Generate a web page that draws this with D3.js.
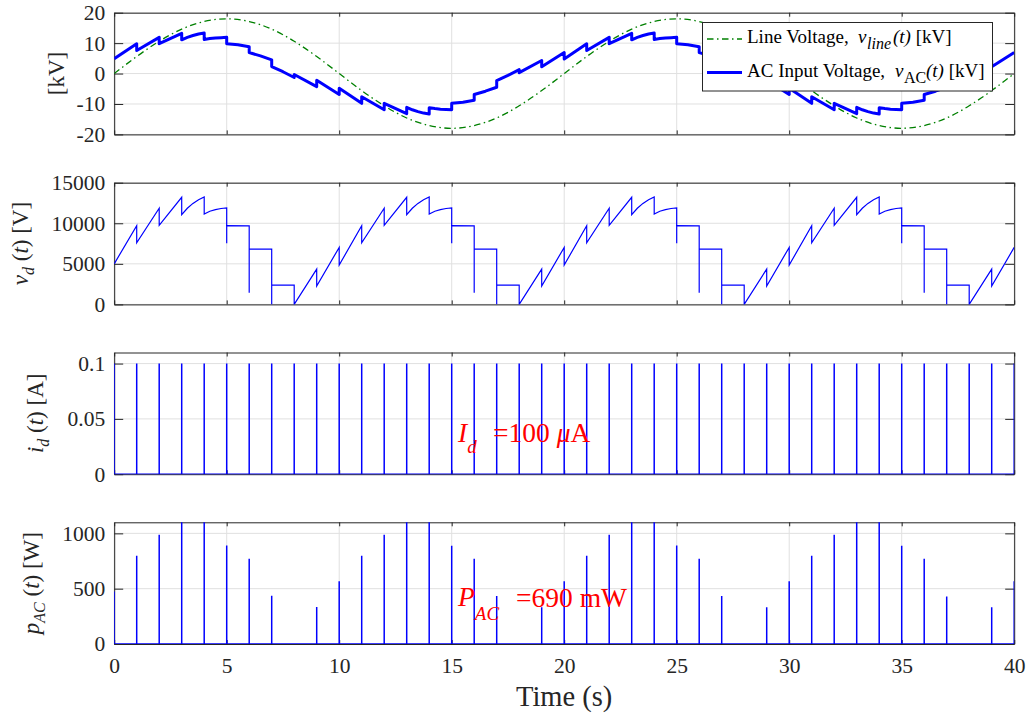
<!DOCTYPE html>
<html>
<head>
<meta charset="utf-8">
<script src="https://cdn.jsdelivr.net/npm/d3@7"></script>
<style>
  html, body { margin: 0; padding: 0; background: #fff; }
  svg { display: block; font-family: "Liberation Serif", "Times New Roman", serif; }
</style>
</head>
<body>
<svg id="chart" width="1029" height="714"></svg>
<script>
// ---------------- data ----------------
const timeTicks = [0, 5, 10, 15, 20, 25, 30, 35, 40];
const kvTicks = [-20, -10, 0, 10, 20];
const vdTicks = [0, 5000, 10000, 15000];
const idTicks = [0, 0.05, 0.1];
const pTicks = [0, 500, 1000];

// line voltage samples, one per second [kV]
const lineTimes = [0,1,2,3,4,5,6,7,8,9,10,11,12,13,14,15,16,17,18,19,20,
                   21,22,23,24,25,26,27,28,29,30,31,32,33,34,35,36,37,38,39,40];
const lineVoltage = [0,5.6,10.6,14.6,17.1,18,17.1,14.6,10.6,5.6,0,-5.6,-10.6,-14.6,-17.1,-18,-17.1,-14.6,-10.6,-5.6,
                     0,5.6,10.6,14.6,17.1,18,17.1,14.6,10.6,5.6,0,-5.6,-10.6,-14.6,-17.1,-18,-17.1,-14.6,-10.6,-5.6,0];

// AC input voltage [t (s), kV]
const vacPoints = [
  [0,4.9],[1,9.8],[1,7.6],[2,11.9],[2,9.8],[3,13.2],[3,11.1],[3.25,11.9],[3.5,12.5],[3.75,13.0],[4,13.3],[4,11.2],
  [4.25,11.5],[4.5,11.7],[4.75,11.8],[5,11.9],[5,9.8],[5.5,9.45],[6,8.8],[6,6.9],[6.5,5.8],[7,4.5],[7,2.3],[7.5,0.6],
  [8,-1.3],[8,-0.3],[9,-4.3],[9,-2.2],[10,-6.9],[10,-4.8],
  [11,-9.8],[11,-7.6],[12,-11.9],[12,-9.8],[13,-13.2],[13,-11.1],[13.25,-11.9],[13.5,-12.5],[13.75,-13.0],[14,-13.3],[14,-11.2],
  [14.25,-11.5],[14.5,-11.7],[14.75,-11.8],[15,-11.9],[15,-9.8],[15.5,-9.45],[16,-8.8],[16,-6.9],[16.5,-5.8],[17,-4.5],[17,-2.3],[17.5,-0.6],
  [18,1.3],[18,0.3],[19,4.3],[19,2.2],[20,6.9],[20,4.8],
  [21,9.8],[21,7.6],[22,11.9],[22,9.8],[23,13.2],[23,11.1],[23.25,11.9],[23.5,12.5],[23.75,13.0],[24,13.3],[24,11.2],
  [24.25,11.5],[24.5,11.7],[24.75,11.8],[25,11.9],[25,9.8],[25.5,9.45],[26,8.8],[26,6.9],[26.5,5.8],[27,4.5],[27,2.3],[27.5,0.6],
  [28,-1.3],[28,-0.3],[29,-4.3],[29,-2.2],[30,-6.9],[30,-4.8],
  [31,-9.8],[31,-7.6],[32,-11.9],[32,-9.8],[33,-13.2],[33,-11.1],[33.25,-11.9],[33.5,-12.5],[33.75,-13.0],[34,-13.3],[34,-11.2],
  [34.25,-11.5],[34.5,-11.7],[34.75,-11.8],[35,-11.9],[35,-9.8],[35.5,-9.45],[36,-8.8],[36,-6.9],[36.5,-5.8],[37,-4.5],[37,-2.3],[37.5,-0.6],
  [38,1.3],[38,0.3],[39,4.3],[39,2.2],[40,6.9]
];

// diode voltage [t (s), V]
const vdPoints = [
  [0,5000],[1,9700],[1,7600],[2,11850],[2,9750],[3,13200],[3,11050],[3.25,11850],[3.5,12450],[3.75,12900],[4,13250],[4,11150],
  [4.25,11480],[4.5,11690],[4.75,11820],[5,11880],[5,7550],[5,9700],[6,9680],[6,1450],[6,6820],[7,6820],[7,0],[7,2370],
  [8,2370],[8,0],[9,4350],[9,2260],[10,7030],[10,4850],
  [11,9700],[11,7600],[12,11850],[12,9750],[13,13200],[13,11050],[13.25,11850],[13.5,12450],[13.75,12900],[14,13250],[14,11150],
  [14.25,11480],[14.5,11690],[14.75,11820],[15,11880],[15,7550],[15,9700],[16,9680],[16,1450],[16,6820],[17,6820],[17,0],[17,2370],
  [18,2370],[18,0],[19,4350],[19,2260],[20,7030],[20,4850],
  [21,9700],[21,7600],[22,11850],[22,9750],[23,13200],[23,11050],[23.25,11850],[23.5,12450],[23.75,12900],[24,13250],[24,11150],
  [24.25,11480],[24.5,11690],[24.75,11820],[25,11880],[25,7550],[25,9700],[26,9680],[26,1450],[26,6820],[27,6820],[27,0],[27,2370],
  [28,2370],[28,0],[29,4350],[29,2260],[30,7030],[30,4850],
  [31,9700],[31,7600],[32,11850],[32,9750],[33,13200],[33,11050],[33.25,11850],[33.5,12450],[33.75,12900],[34,13250],[34,11150],
  [34.25,11480],[34.5,11690],[34.75,11820],[35,11880],[35,7550],[35,9700],[36,9680],[36,1450],[36,6820],[37,6820],[37,0],[37,2370],
  [38,2370],[38,0],[39,4350],[39,2260],[40,7030]
];

// pulse instants and heights
const pulseTimes = [0,1,2,3,4,5,6,7,8,9,10,11,12,13,14,15,16,17,18,19,20,
                    21,22,23,24,25,26,27,28,29,30,31,32,33,34,35,36,37,38,39,40];
const idPeaks = [0.1,0.1,0.1,0.1,0.1,0.1,0.1,0.1,0.1,0.1,0.1,0.1,0.1,0.1,0.1,0.1,0.1,0.1,0.1,0.1,0.1,
                 0.1,0.1,0.1,0.1,0.1,0.1,0.1,0.1,0.1,0.1,0.1,0.1,0.1,0.1,0.1,0.1,0.1,0.1,0.1,0.1];
const pacPeaks = [475,797,988,1180,1190,890,770,435,0,335,568,797,988,1180,1190,888,770,433,0,333,567,
                  797,988,1180,1190,891,770,433,0,333,567,797,988,1180,1190,888,770,430,0,333,567];

// ---------------- layout ----------------
const FONT = '"Liberation Serif", "Times New Roman", serif';
const svg = d3.select("#chart");
const X0 = 114.2, X1 = 1014.2, PH = 121.7;
const panelTops = [12.7, 182.7, 352.5, 522.3];
const INK = "#262626", GRID = "#e0e0e0", BLUE = "#0000ff";

const x = d3.scaleLinear().domain([0, 40]).range([X0, X1]);

function makePanel(i, domain, yTicks, showX) {
  const top = panelTops[i], bottom = top + PH;
  const y = d3.scaleLinear().domain(domain).range([bottom, top]);
  const g = svg.append("g");

  // grid
  const grid = g.append("g").attr("stroke", GRID).attr("stroke-width", 1);
  grid.selectAll("line.h").data(yTicks).join("line").attr("class", "h")
    .attr("x1", X0).attr("x2", X1).attr("y1", d => y(d)).attr("y2", d => y(d));
  grid.selectAll("line.v").data(timeTicks).join("line").attr("class", "v")
    .attr("x1", d => x(d)).attr("x2", d => x(d)).attr("y1", top).attr("y2", bottom);

  const fmt = d => String(d);
  const left = g.append("g").attr("transform", `translate(${X0},0)`)
    .call(d3.axisLeft(y).tickValues(yTicks).tickSizeInner(-9).tickSizeOuter(0).tickPadding(9).tickFormat(fmt));
  const right = g.append("g").attr("transform", `translate(${X1},0)`)
    .call(d3.axisRight(y).tickValues(yTicks).tickSizeInner(-9).tickSizeOuter(0).tickFormat(""));
  const topAx = g.append("g").attr("transform", `translate(0,${top})`)
    .call(d3.axisTop(x).tickValues(timeTicks).tickSizeInner(-4).tickSizeOuter(0).tickFormat(""));
  const botAx = g.append("g").attr("transform", `translate(0,${bottom})`)
    .call(d3.axisBottom(x).tickValues(timeTicks).tickSizeInner(-4).tickSizeOuter(0).tickPadding(14)
      .tickFormat(showX ? fmt : ""));
  [left, right, topAx, botAx].forEach(a => {
    a.attr("font-family", FONT).attr("font-size", 21.5);
    a.select(".domain").attr("stroke", INK).attr("stroke-width", 1);
    a.selectAll(".tick line").attr("stroke", INK);
    a.selectAll(".tick text").attr("fill", INK);
  });

  svg.append("clipPath").attr("id", "clip" + i).append("rect")
    .attr("x", X0).attr("y", top).attr("width", X1 - X0).attr("height", PH);
  const plot = svg.append("g").attr("clip-path", `url(#clip${i})`);
  return { y, plot, top, bottom };
}

function yLabel(panel, xBase, parts) {
  const cy = (panel.top + panel.bottom) / 2;
  const t = svg.append("text")
    .attr("transform", `translate(${xBase},${cy}) rotate(-90)`)
    .attr("text-anchor", "middle").attr("font-size", 23).attr("fill", INK);
  let shifted = 0;
  parts.forEach(p => {
    const s = t.append("tspan").text(p.t);
    if (p.it) s.attr("font-style", "italic");
    if (p.sub) { s.attr("font-size", 16).attr("dy", 6 - shifted); shifted = 6; }
    else if (shifted) { s.attr("dy", -shifted); shifted = 0; }
  });
}

// ---------------- panel 1: voltages ----------------
const p1 = makePanel(0, [-20, 20], kvTicks, false);
const lineData = lineTimes.map((t, k) => [t, lineVoltage[k]]);
p1.plot.append("path").datum(lineData)
  .attr("fill", "none").attr("stroke", "#008000").attr("stroke-width", 1.3)
  .attr("stroke-dasharray", "6.5,3.5,1.5,3.5")
  .attr("d", d3.line().x(d => x(d[0])).y(d => p1.y(d[1])).curve(d3.curveNatural));
p1.plot.append("path").datum(vacPoints)
  .attr("fill", "none").attr("stroke", BLUE).attr("stroke-width", 3).attr("stroke-linejoin", "round")
  .attr("d", d3.line().x(d => x(d[0])).y(d => p1.y(d[1])));
yLabel(p1, 64, [{ t: "[kV]" }]);

// legend
const lg = svg.append("g");
lg.append("rect").attr("x", 702.5).attr("y", 22.5).attr("width", 290).attr("height", 68.5)
  .attr("fill", "#fff").attr("stroke", INK).attr("stroke-width", 1);
lg.append("line").attr("x1", 707).attr("x2", 742).attr("y1", 39).attr("y2", 39)
  .attr("stroke", "#008000").attr("stroke-width", 1.3).attr("stroke-dasharray", "6.5,3.5,1.5,3.5");
lg.append("line").attr("x1", 707).attr("x2", 742).attr("y1", 72.5).attr("y2", 72.5)
  .attr("stroke", BLUE).attr("stroke-width", 3);
function legendText(xs, yb, parts) {
  const t = lg.append("text").attr("x", xs).attr("y", yb).attr("font-size", 19).attr("fill", "#000");
  let shifted = 0;
  parts.forEach(p => {
    const s = t.append("tspan").text(p.t);
    if (p.x != null) s.attr("x", p.x);
    if (p.it) s.attr("font-style", "italic");
    if (p.sub) { s.attr("font-size", 16).attr("dy", 6 - shifted); shifted = 6; }
    else if (shifted) { s.attr("dy", -shifted); shifted = 0; }
  });
}
legendText(747, 42.5, [{ t: "Line Voltage," }, { t: "v", it: true, x: 858 }, { t: "line", it: true, sub: true, x: 867 },
  { t: "(t)", it: true, x: 893 }, { t: " [kV]" }]);
legendText(747, 77, [{ t: "AC Input Voltage, " }, { t: "v", it: true, x: 895 }, { t: "AC", sub: true, x: 904 },
  { t: "(t)", it: true, x: 926 }, { t: " [kV]" }]);

// ---------------- panel 2: diode voltage ----------------
const p2 = makePanel(1, [0, 15000], vdTicks, false);
p2.plot.append("path").datum(vdPoints)
  .attr("fill", "none").attr("stroke", BLUE).attr("stroke-width", 1.2)
  .attr("d", d3.line().x(d => x(d[0])).y(d => p2.y(d[1])));
yLabel(p2, 28, [{ t: "v", it: true }, { t: "d", it: true, sub: true }, { t: " (" }, { t: "t", it: true }, { t: ") [V]" }]);

// pulse trains drawn as a single path returning to zero after each pulse
function pulsePath(peaks) {
  const pts = [];
  pulseTimes.forEach((t, k) => { pts.push([t, 0], [t, peaks[k]], [t, 0]); });
  return pts;
}

// ---------------- panel 3: diode current ----------------
const p3 = makePanel(2, [0, 0.11], idTicks, false);
p3.plot.append("path").datum(pulsePath(idPeaks))
  .attr("fill", "none").attr("stroke", BLUE).attr("stroke-width", 1.5)
  .attr("d", d3.line().x(d => x(d[0])).y(d => p3.y(d[1])));
yLabel(p3, 43, [{ t: "i", it: true }, { t: "d", it: true, sub: true }, { t: " (" }, { t: "t", it: true }, { t: ") [A]" }]);
const a3 = svg.append("text").attr("x", 458).attr("y", 442).attr("font-size", 27.5).attr("fill", "#ff0000");
a3.append("tspan").text("I").attr("font-style", "italic");
a3.append("tspan").text("d").attr("font-style", "italic").attr("font-size", 19).attr("dy", 11);
a3.append("tspan").text("=100 ").attr("x", 493).attr("dy", -11);
a3.append("tspan").text("μ").attr("font-style", "italic");
a3.append("tspan").text("A");

// ---------------- panel 4: AC power ----------------
const p4 = makePanel(3, [0, 1100], pTicks, true);
p4.plot.append("path").datum(pulsePath(pacPeaks))
  .attr("fill", "none").attr("stroke", BLUE).attr("stroke-width", 1.5)
  .attr("d", d3.line().x(d => x(d[0])).y(d => p4.y(d[1])));
yLabel(p4, 39, [{ t: "p", it: true }, { t: "AC", it: true, sub: true }, { t: " (" }, { t: "t", it: true }, { t: ") [W]" }]);
const a4 = svg.append("text").attr("x", 458).attr("y", 606).attr("font-size", 27.5).attr("fill", "#ff0000");
a4.append("tspan").text("P").attr("font-style", "italic");
a4.append("tspan").text("AC").attr("font-style", "italic").attr("font-size", 19).attr("dy", 14);
a4.append("tspan").text("=690 mW").attr("x", 516).attr("dy", -13);

// x-axis title
svg.append("text").attr("x", (X0 + X1) / 2).attr("y", 706).attr("text-anchor", "middle")
  .attr("font-size", 28.5).attr("fill", INK).text("Time (s)");
</script>
</body>
</html>
